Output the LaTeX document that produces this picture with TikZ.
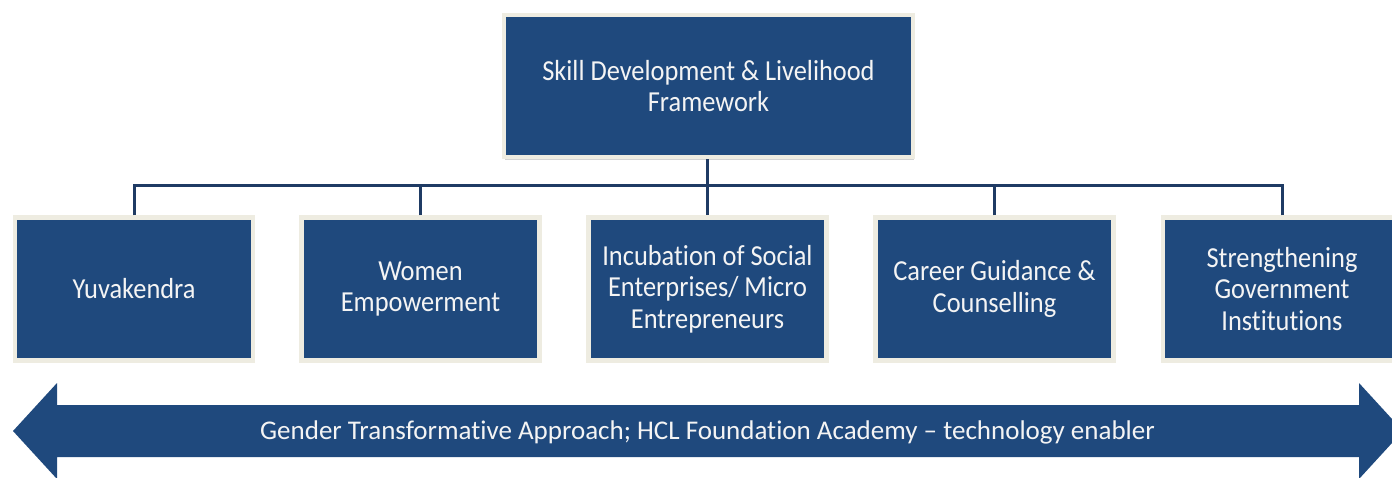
\documentclass[tikz,border=0pt]{standalone}
\usepackage{fontspec}
\setmainfont{Carlito}[Ligatures=NoCommon]
\newfontfamily\boxfont{Carlito}[FakeStretch=0.91,Ligatures=NoCommon]
\usetikzlibrary{shadows}
\definecolor{boxblue}{HTML}{1F497D}
\definecolor{linkblue}{HTML}{1F3B64}
\definecolor{cream}{HTML}{EEECE1}
\definecolor{lighttext}{HTML}{F4F4F4}
\tikzset{
  boxstyle/.style={fill=boxblue, draw=cream, line width=4.5pt, text=lighttext,
    align=center, inner sep=2pt, font=\boxfont\fontsize{29}{31.5}\selectfont,
    drop shadow={opacity=0.35, shadow xshift=1pt, shadow yshift=-2.5pt}},
  topbox/.style={boxstyle, minimum width=409pt, minimum height=142pt},
  childbox/.style={boxstyle, minimum width=238pt, minimum height=143pt},
  conn/.style={draw=linkblue, line width=3pt},
  bandarrow/.style={fill=boxblue},
  bandtext/.style={text=lighttext, font=\fontsize{27}{31}\selectfont},
}
\begin{document}
\begin{tikzpicture}[x=1pt,y=-1pt]
\useasboundingbox (0,0) rectangle (1392,477);
\begin{scope}
\clip (0,0) rectangle (1392,477);
\node[topbox] (top) at (708.5,86) {Skill Development \& Livelihood\\Framework};
\node[childbox] (c1) at (134,289) {Yuvakendra};
\node[childbox] (c2) at (420.5,289) {Women\\Empowerment};
\node[childbox] (c3) at (707.5,289) {Incubation of Social\\Enterprises/ Micro\\Entrepreneurs};
\node[childbox] (c4) at (994.5,289) {Career Guidance \&\\Counselling};
\node[childbox] (c5) at (1282,289) {Strengthening\\Government\\Institutions};
\coordinate (bus) at (707.5,185);
\draw[conn] (top.south -| bus) -- (c3.north);
\foreach \c in {c1,c2,c4,c5}
  \draw[conn] (\c.north) -- (\c.north |- bus) -- (bus);
\fill[bandarrow] (13,431) -- (57,383) -- (57,405) -- (1359,405) -- (1359,383)
  -- (1403,431) -- (1359,479) -- (1359,457) -- (57,457) -- (57,479) -- cycle;
\node[bandtext] (band) at (707.5,432)
  {Gender Transformative Approach; HCL Foundation Academy – technology enabler};
\end{scope}
\end{tikzpicture}
\end{document}
